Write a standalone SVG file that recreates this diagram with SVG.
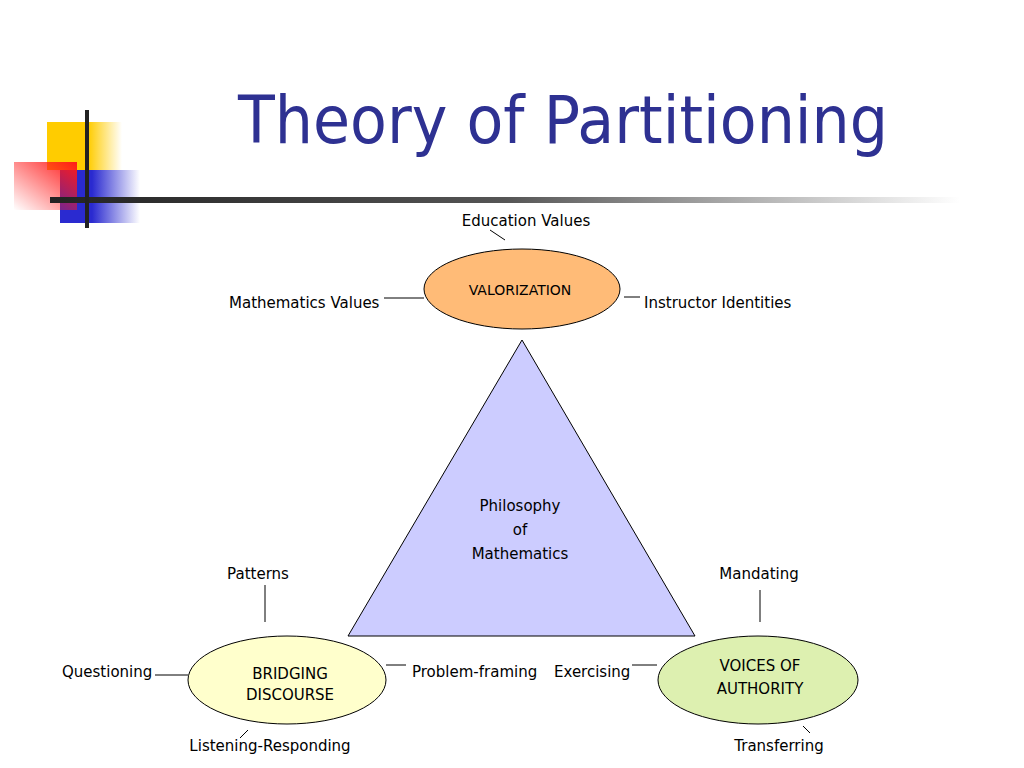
<svg xmlns="http://www.w3.org/2000/svg" width="1024" height="768" viewBox="0 0 1024 768">
<defs>
<linearGradient id="yel" x1="0" x2="1" y1="0" y2="0"><stop offset="0.55" stop-color="#ffcc00"/><stop offset="1" stop-color="#ffcc00" stop-opacity="0"/></linearGradient>
<linearGradient id="blu" x1="0" x2="1" y1="0" y2="0"><stop offset="0.4" stop-color="#2a2ad0"/><stop offset="1" stop-color="#2a2ad0" stop-opacity="0"/></linearGradient>
<linearGradient id="red" x1="1" x2="0" y1="0" y2="1"><stop offset="0" stop-color="#ff1a1a"/><stop offset="1" stop-color="#ff1a1a" stop-opacity="0"/></linearGradient>
<linearGradient id="bar" x1="0" x2="1" y1="0" y2="0"><stop offset="0" stop-color="#222"/><stop offset="0.5" stop-color="#555"/><stop offset="1" stop-color="#fff"/></linearGradient>
<style>
text{font-family:"DejaVu Sans","Liberation Sans",sans-serif;font-size:15px;fill:#000}
.c{text-anchor:middle}
.ln{stroke:#000;stroke-width:1;fill:none}
.el{stroke:#000;stroke-width:1}
</style>
</defs>
<g id="logo">
<rect x="47" y="122" width="75" height="48" fill="url(#yel)"/>
<rect x="60" y="170" width="80" height="53" fill="url(#blu)"/>
<rect x="14" y="162" width="63" height="48" fill="url(#red)"/>
<rect x="50" y="197" width="910" height="6" fill="url(#bar)"/>
<rect x="85" y="110" width="4" height="118" fill="#222"/>
</g>
<text x="238" y="143" style="font-size:66px;fill:#2e3192" textLength="650" lengthAdjust="spacingAndGlyphs">Theory of Partitioning</text>
<g id="connectors">
<line class="ln" x1="490" y1="230" x2="505" y2="240"/>
<line class="ln" x1="384" y1="298" x2="424" y2="298"/>
<line class="ln" x1="624" y1="297" x2="640" y2="297"/>
<line class="ln" x1="265" y1="585" x2="265" y2="622"/>
<line class="ln" x1="155" y1="675" x2="188" y2="675"/>
<line class="ln" x1="386" y1="665" x2="406" y2="665"/>
<line class="ln" x1="240" y1="738" x2="248" y2="730"/>
<line class="ln" x1="632" y1="665" x2="657" y2="665"/>
<line class="ln" x1="760" y1="590" x2="760" y2="622"/>
<line class="ln" x1="803" y1="726" x2="810" y2="733"/>
</g>
<g id="philosophy">
<polygon points="522,340 348,636 695,636" fill="#ccccff" stroke="#000"/>
<text class="c" x="520" y="511">Philosophy</text>
<text class="c" x="520" y="535">of</text>
<text class="c" x="520" y="559">Mathematics</text>
</g>
<g id="valorization">
<ellipse class="el" cx="522" cy="289" rx="98" ry="40" fill="#ffbb77"/>
<text class="c" x="520" y="295" style="font-size:14px">VALORIZATION</text>
</g>
<g id="bridging">
<ellipse class="el" cx="287" cy="680" rx="99" ry="44" fill="#ffffcc"/>
<text class="c" x="290" y="679">BRIDGING</text>
<text class="c" x="290" y="700">DISCOURSE</text>
</g>
<g id="voices">
<ellipse class="el" cx="758" cy="680" rx="100" ry="44" fill="#ddf0b0"/>
<text class="c" x="760" y="671">VOICES OF</text>
<text class="c" x="760" y="694">AUTHORITY</text>
</g>
<g id="labels">
<text class="c" x="526" y="226">Education Values</text>
<text x="229" y="308">Mathematics Values</text>
<text x="644" y="308">Instructor Identities</text>
<text class="c" x="258" y="579">Patterns</text>
<text x="62" y="677">Questioning</text>
<text x="412" y="677">Problem-framing</text>
<text x="554" y="677">Exercising</text>
<text class="c" x="759" y="579">Mandating</text>
<text class="c" x="270" y="751">Listening-Responding</text>
<text class="c" x="779" y="751">Transferring</text>
</g>
</svg>
